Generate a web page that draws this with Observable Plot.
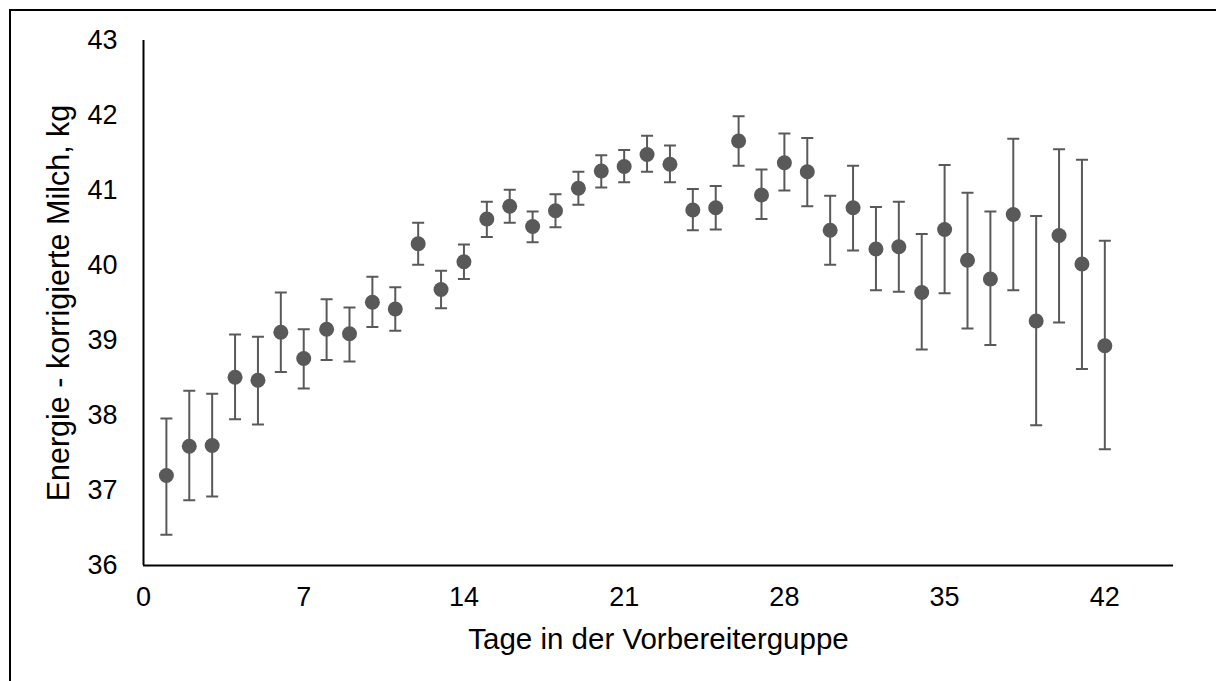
<!DOCTYPE html>
<html>
<head>
<meta charset="utf-8">
<script src="https://cdn.jsdelivr.net/npm/d3@7"></script>
<script src="https://cdn.jsdelivr.net/npm/@observablehq/plot@0.6"></script>
<style>
  html, body { margin: 0; padding: 0; background: #fff; }
  #wrap { position: relative; width: 1216px; height: 681px; overflow: hidden; }
  #frame { position: absolute; left: 9px; top: 9px; width: 1400px; height: 900px;
           border-left: 2px solid #000; border-top: 2px solid #000; pointer-events: none; }
  #chart { position: absolute; left: 0; top: 0; }
</style>
</head>
<body>
<div id="wrap"><div id="chart"></div><div id="frame"></div></div>
<script>
const days = d3.range(1, 43);
const meanVals = [37.20, 37.59, 37.60, 38.51, 38.47, 39.11, 38.76, 39.15, 39.09, 39.51, 39.42, 40.29, 39.68, 40.05, 40.62, 40.79, 40.52, 40.73, 41.03, 41.26, 41.32, 41.48, 41.35, 40.74, 40.77, 41.66, 40.94, 41.37, 41.25, 40.47, 40.77, 40.22, 40.25, 39.64, 40.48, 40.07, 39.82, 40.68, 39.26, 40.40, 40.02, 38.93];
const upperVals = [37.96, 38.33, 38.29, 39.08, 39.05, 39.64, 39.15, 39.55, 39.44, 39.85, 39.71, 40.57, 39.93, 40.28, 40.85, 41.01, 40.72, 40.95, 41.25, 41.47, 41.54, 41.73, 41.60, 41.02, 41.06, 41.99, 41.28, 41.76, 41.70, 40.93, 41.33, 40.78, 40.85, 40.42, 41.34, 40.97, 40.72, 41.69, 40.66, 41.55, 41.41, 40.33];
const lowerVals = [36.41, 36.87, 36.92, 37.95, 37.88, 38.58, 38.36, 38.74, 38.72, 39.18, 39.13, 40.01, 39.43, 39.82, 40.38, 40.57, 40.31, 40.51, 40.81, 41.04, 41.11, 41.25, 41.11, 40.47, 40.48, 41.33, 40.62, 41.00, 40.79, 40.01, 40.20, 39.67, 39.65, 38.88, 39.63, 39.16, 38.94, 39.67, 37.87, 39.24, 38.62, 37.55];
const xTicks = [0, 7, 14, 21, 28, 35, 42];
const yTicks = [36, 37, 38, 39, 40, 41, 42, 43];
const xTitle = "Tage in der Vorbereiterguppe";
const yTitle = "Energie - korrigierte Milch, kg";

const data = days.map((d, i) => ({day: d, mean: meanVals[i], lo: lowerVals[i], hi: upperVals[i]}));

const capSymbol = {
  draw(ctx) { ctx.moveTo(-6, 0); ctx.lineTo(6, 0); }
};

const col = "#595959";
const font = "'Liberation Sans', Arial, sans-serif";

const chart = Plot.plot({
  width: 1216,
  height: 681,
  marginLeft: 143,
  marginRight: 43,
  marginTop: 40,
  marginBottom: 116,
  style: {fontFamily: font, color: "#000", background: "transparent"},
  x: {domain: [0, 45]},
  y: {domain: [36, 43]},
  marks: [
    Plot.axisY({ticks: yTicks, tickSize: 0, tickPadding: 26, fontSize: 27, label: null, tickFormat: d => String(d)}),
    Plot.axisX({ticks: xTicks, tickSize: 0, tickPadding: 21, fontSize: 27, label: null, tickFormat: d => String(d)}),
    Plot.link(data, {x1: "day", x2: "day", y1: "lo", y2: "hi", stroke: col, strokeWidth: 2}),
    Plot.dot(data, {x: "day", y: "hi", symbol: capSymbol, stroke: col, strokeWidth: 2, fill: "none"}),
    Plot.dot(data, {x: "day", y: "lo", symbol: capSymbol, stroke: col, strokeWidth: 2, fill: "none"}),
    Plot.dot(data, {x: "day", y: "mean", r: 7.5, fill: col, stroke: "none"}),
    Plot.ruleX([0], {stroke: "#000", strokeWidth: 2}),
    Plot.ruleY([36], {stroke: "#000", strokeWidth: 2}),
    Plot.text([xTitle], {frameAnchor: "bottom", textAnchor: "middle", lineAnchor: "top", dy: 63, fontSize: 29.5, fill: "#000"}),
    Plot.text([yTitle], {frameAnchor: "left", textAnchor: "middle", lineAnchor: "top", rotate: -90, dx: -96, fontSize: 30.5, fill: "#000"})
  ]
});
document.getElementById("chart").appendChild(chart);
</script>
</body>
</html>
